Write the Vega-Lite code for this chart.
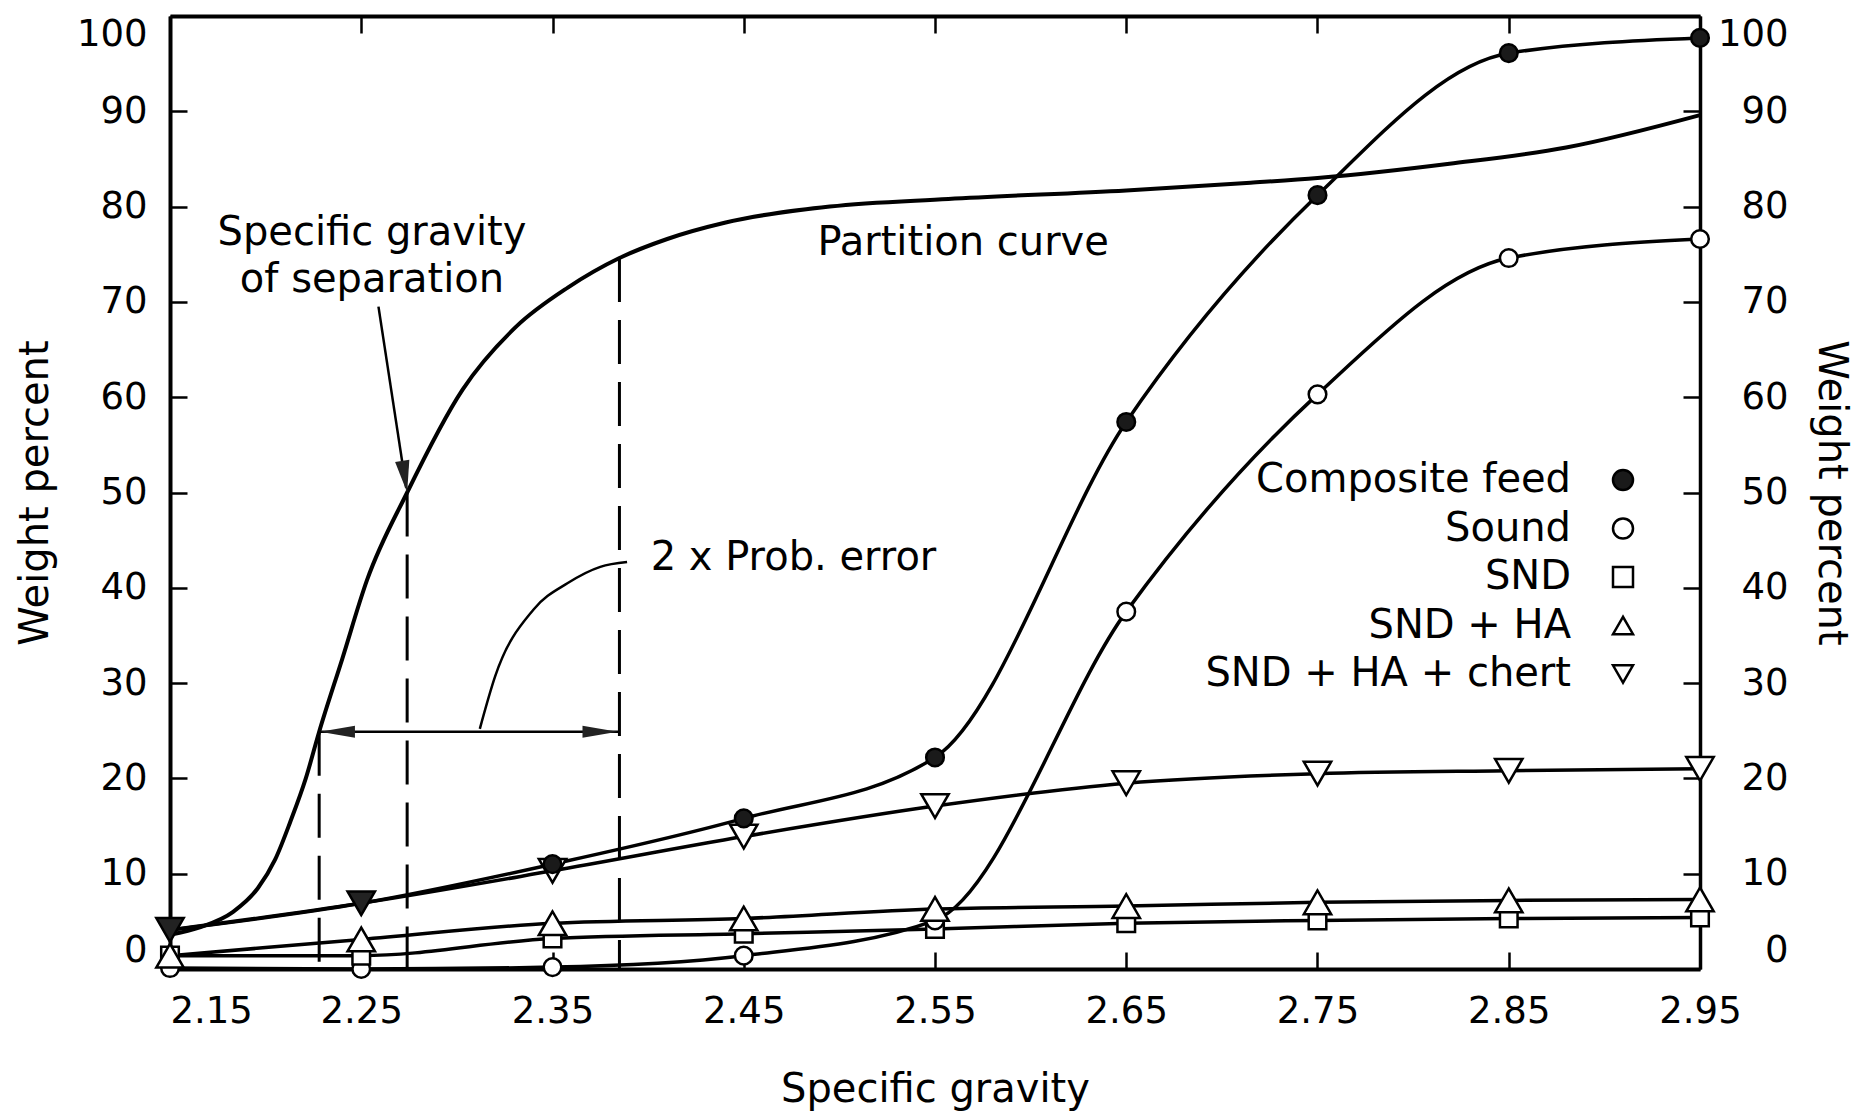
{
  "$schema": "https://vega.github.io/schema/vega-lite/v6.json",
  "width": 1530,
  "height": 953,
  "autosize": {"type": "none"},
  "padding": {"left": 170, "top": 16, "right": 160, "bottom": 150},
  "background": "white",
  "config": {
    "view": {"stroke": null},
    "font": "DejaVu Sans",
    "axis": {
      "domainColor": "black", "domainWidth": 4,
      "tickColor": "black", "tickWidth": 2.5, "tickSize": -17,
      "labelColor": "black", "labelFont": "DejaVu Sans", "labelFontSize": 37,
      "titleFont": "DejaVu Sans", "titleFontSize": 40, "titleFontWeight": "normal", "titleColor": "black",
      "grid": false
    },
    "legend": {
      "labelFont": "DejaVu Sans", "labelFontSize": 40, "labelColor": "black",
      "labelAlign": "right", "labelOffset": -72, "labelLimit": 1000,
      "rowPadding": 8.5, "symbolSize": 400, "symbolStrokeColor": "black", "symbolStrokeWidth": 2.5,
      "padding": 0
    }
  },
  "datasets": {
    "series": [
      {"sg": 2.15, "pct": 4.1, "series": "Composite feed"},
      {"sg": 2.25, "pct": 6.9, "series": "Composite feed"},
      {"sg": 2.35, "pct": 11.0, "series": "Composite feed"},
      {"sg": 2.45, "pct": 15.8, "series": "Composite feed"},
      {"sg": 2.55, "pct": 22.2, "series": "Composite feed"},
      {"sg": 2.65, "pct": 57.4, "series": "Composite feed"},
      {"sg": 2.75, "pct": 81.2, "series": "Composite feed"},
      {"sg": 2.85, "pct": 96.1, "series": "Composite feed"},
      {"sg": 2.95, "pct": 97.7, "series": "Composite feed"},
      {"sg": 2.15, "pct": 0.1, "series": "Sound"},
      {"sg": 2.25, "pct": 0.0, "series": "Sound"},
      {"sg": 2.35, "pct": 0.2, "series": "Sound"},
      {"sg": 2.45, "pct": 1.4, "series": "Sound"},
      {"sg": 2.55, "pct": 5.1, "series": "Sound"},
      {"sg": 2.65, "pct": 37.5, "series": "Sound"},
      {"sg": 2.75, "pct": 60.3, "series": "Sound"},
      {"sg": 2.85, "pct": 74.6, "series": "Sound"},
      {"sg": 2.95, "pct": 76.6, "series": "Sound"},
      {"sg": 2.15, "pct": 1.4, "series": "SND"},
      {"sg": 2.25, "pct": 1.4, "series": "SND"},
      {"sg": 2.35, "pct": 3.2, "series": "SND"},
      {"sg": 2.45, "pct": 3.7, "series": "SND"},
      {"sg": 2.55, "pct": 4.2, "series": "SND"},
      {"sg": 2.65, "pct": 4.8, "series": "SND"},
      {"sg": 2.75, "pct": 5.1, "series": "SND"},
      {"sg": 2.85, "pct": 5.3, "series": "SND"},
      {"sg": 2.95, "pct": 5.4, "series": "SND"},
      {"sg": 2.15, "pct": 1.4, "series": "SND + HA"},
      {"sg": 2.25, "pct": 3.1, "series": "SND + HA"},
      {"sg": 2.35, "pct": 4.8, "series": "SND + HA"},
      {"sg": 2.45, "pct": 5.3, "series": "SND + HA"},
      {"sg": 2.55, "pct": 6.3, "series": "SND + HA"},
      {"sg": 2.65, "pct": 6.6, "series": "SND + HA"},
      {"sg": 2.75, "pct": 7.0, "series": "SND + HA"},
      {"sg": 2.85, "pct": 7.2, "series": "SND + HA"},
      {"sg": 2.95, "pct": 7.3, "series": "SND + HA"},
      {"sg": 2.15, "pct": 4.1, "series": "SND + HA + chert"},
      {"sg": 2.25, "pct": 6.9, "series": "SND + HA + chert"},
      {"sg": 2.35, "pct": 10.3, "series": "SND + HA + chert"},
      {"sg": 2.45, "pct": 13.9, "series": "SND + HA + chert"},
      {"sg": 2.55, "pct": 17.1, "series": "SND + HA + chert"},
      {"sg": 2.65, "pct": 19.5, "series": "SND + HA + chert"},
      {"sg": 2.75, "pct": 20.5, "series": "SND + HA + chert"},
      {"sg": 2.85, "pct": 20.8, "series": "SND + HA + chert"},
      {"sg": 2.95, "pct": 21.0, "series": "SND + HA + chert"}
    ],
    "partition": [
      {"sg": 2.15, "pct": 3.6},
      {"sg": 2.166, "pct": 4.4},
      {"sg": 2.183, "pct": 6.0},
      {"sg": 2.196, "pct": 8.5},
      {"sg": 2.205, "pct": 11.5},
      {"sg": 2.213, "pct": 15.5},
      {"sg": 2.221, "pct": 20.0},
      {"sg": 2.228, "pct": 24.9},
      {"sg": 2.24, "pct": 32.5},
      {"sg": 2.253, "pct": 40.8},
      {"sg": 2.274, "pct": 50.0},
      {"sg": 2.303, "pct": 60.8},
      {"sg": 2.331, "pct": 67.4},
      {"sg": 2.358, "pct": 71.5},
      {"sg": 2.385, "pct": 74.6},
      {"sg": 2.41, "pct": 76.6},
      {"sg": 2.44, "pct": 78.3},
      {"sg": 2.495, "pct": 80.0},
      {"sg": 2.557, "pct": 80.8},
      {"sg": 2.65, "pct": 81.7},
      {"sg": 2.715, "pct": 82.5},
      {"sg": 2.75, "pct": 83.0},
      {"sg": 2.819, "pct": 84.5},
      {"sg": 2.88, "pct": 86.2},
      {"sg": 2.95, "pct": 89.6}
    ],
    "dashes": [
      {"sg": 2.228, "pct": 24.9},
      {"sg": 2.274, "pct": 50.0},
      {"sg": 2.385, "pct": 74.6}
    ],
    "span": [
      {"sg": 2.228, "sg_end": 2.385, "pct": 24.9}
    ],
    "arrowheads": [
      {"sg": 2.2284, "pct": 24.9, "dir": "left"},
      {"sg": 2.384, "pct": 24.9, "dir": "right"},
      {"sg": 2.274, "pct": 50.0, "dir": "down"}
    ],
    "leader1": [
      {"sg": 2.259, "pct": 69.5},
      {"sg": 2.2735, "pct": 50.5}
    ],
    "leader2": [
      {"sg": 2.312, "pct": 25.2},
      {"sg": 2.320, "pct": 30.7},
      {"sg": 2.340, "pct": 37.7},
      {"sg": 2.358, "pct": 40.5},
      {"sg": 2.375, "pct": 42.2},
      {"sg": 2.389, "pct": 42.7}
    ],
    "notes": [
      {"sg": 2.2556, "pct": 77.2, "label": "Specific gravity"},
      {"sg": 2.2556, "pct": 72.3, "label": "of separation"},
      {"sg": 2.5647, "pct": 76.2, "label": "Partition curve"},
      {"sg": 2.476, "pct": 43.1, "label": "2 x Prob. error"}
    ]
  },
  "layer": [
    {
      "data": {"name": "partition"},
      "mark": {"type": "line", "interpolate": "monotone", "stroke": "black", "strokeWidth": 4},
      "encoding": {
        "x": {"field": "sg", "type": "quantitative",
              "scale": {"domain": [2.15, 2.95], "nice": false, "zero": false},
              "axis": {"orient": "top", "values": [2.15, 2.25, 2.35, 2.45, 2.55, 2.65, 2.75, 2.85, 2.95], "labels": false, "title": null}},
        "y": {"field": "pct", "type": "quantitative",
              "scale": {"domain": [0, 100], "nice": false},
              "axis": {"orient": "right", "values": [0, 10, 20, 30, 40, 50, 60, 70, 80, 90, 100],
                       "labelAlign": "right", "labelPadding": 105, "labelFlush": true,
                       "title": "Weight percent", "titlePadding": 22, "domainWidth": 3.5}}
      }
    },
    {
      "data": {"name": "dashes"},
      "mark": {"type": "rule", "stroke": "black", "strokeWidth": 3, "strokeDash": [44, 18]},
      "encoding": {
        "x": {"field": "sg", "type": "quantitative", "axis": null},
        "y": {"field": "pct", "type": "quantitative", "axis": null},
        "y2": {"datum": 0}
      }
    },
    {
      "data": {"name": "span"},
      "mark": {"type": "rule", "stroke": "black", "strokeWidth": 2.5},
      "encoding": {
        "x": {"field": "sg", "type": "quantitative", "axis": null},
        "x2": {"field": "sg_end"},
        "y": {"field": "pct", "type": "quantitative", "axis": null}
      }
    },
    {
      "data": {"name": "leader1"},
      "mark": {"type": "line", "stroke": "black", "strokeWidth": 2.5},
      "encoding": {
        "x": {"field": "sg", "type": "quantitative", "axis": null},
        "y": {"field": "pct", "type": "quantitative", "axis": null}
      }
    },
    {
      "data": {"name": "leader2"},
      "mark": {"type": "line", "interpolate": "monotone", "stroke": "black", "strokeWidth": 2.5},
      "encoding": {
        "x": {"field": "sg", "type": "quantitative", "axis": null},
        "y": {"field": "pct", "type": "quantitative", "axis": null}
      }
    },
    {
      "data": {"name": "arrowheads"},
      "transform": [{"filter": "datum.dir == 'left'"}],
      "mark": {"type": "point", "shape": "M0,0L2,-0.34L2,0.34Z", "size": 1225, "filled": true, "fill": "#222", "strokeWidth": 0, "opacity": 1},
      "encoding": {
        "x": {"field": "sg", "type": "quantitative", "axis": null},
        "y": {"field": "pct", "type": "quantitative", "axis": null}
      }
    },
    {
      "data": {"name": "arrowheads"},
      "transform": [{"filter": "datum.dir == 'right'"}],
      "mark": {"type": "point", "shape": "M0,0L-2,-0.34L-2,0.34Z", "size": 1225, "filled": true, "fill": "#222", "strokeWidth": 0, "opacity": 1},
      "encoding": {
        "x": {"field": "sg", "type": "quantitative", "axis": null},
        "y": {"field": "pct", "type": "quantitative", "axis": null}
      }
    },
    {
      "data": {"name": "arrowheads"},
      "transform": [{"filter": "datum.dir == 'down'"}],
      "mark": {"type": "point", "shape": "M0,0L0.137,-2.045L-0.753,-1.907Z", "size": 1024, "filled": true, "fill": "#222", "strokeWidth": 0, "opacity": 1},
      "encoding": {
        "x": {"field": "sg", "type": "quantitative", "axis": null},
        "y": {"field": "pct", "type": "quantitative", "axis": null}
      }
    },
    {
      "data": {"name": "series"},
      "mark": {"type": "line", "interpolate": "monotone", "stroke": "black", "strokeWidth": 3.5},
      "encoding": {
        "x": {"field": "sg", "type": "quantitative",
              "axis": {"orient": "bottom", "values": [2.15, 2.25, 2.35, 2.45, 2.55, 2.65, 2.75, 2.85, 2.95], "format": ".2f",
                       "labelPadding": 41, "title": "Specific gravity", "titlePadding": 40,
                       "labelAlign": {"condition": {"test": "datum.value < 2.16", "value": "left"}, "value": "center"}}},
        "y": {"field": "pct", "type": "quantitative",
              "axis": {"orient": "left", "values": [0, 10, 20, 30, 40, 50, 60, 70, 80, 90, 100],
                       "labelPadding": 40, "labelFlush": true, "title": "Weight percent", "titlePadding": 21}},
        "detail": {"field": "series", "type": "nominal"}
      }
    },
    {
      "data": {"name": "series"},
      "transform": [{"filter": "!(datum.series == 'Composite feed' && datum.sg < 2.3)"}],
      "mark": {"type": "point", "filled": true, "strokeWidth": 2.5, "opacity": 1},
      "encoding": {
        "x": {"field": "sg", "type": "quantitative", "axis": null},
        "y": {"field": "pct", "type": "quantitative", "axis": null},
        "shape": {"field": "series", "type": "nominal",
                  "scale": {"domain": ["Composite feed", "Sound", "SND", "SND + HA", "SND + HA + chert"],
                            "range": ["circle", "circle", "square", "triangle-up", "triangle-down"]},
                  "legend": {"title": null, "orient": "none", "legendX": 1433, "legendY": 444}},
        "fill": {"condition": {"test": "datum.series == 'SND + HA + chert' && datum.sg < 2.3", "value": "#222"},
                 "field": "series", "type": "nominal",
                 "scale": {"domain": ["Composite feed", "Sound", "SND", "SND + HA", "SND + HA + chert"],
                           "range": ["#1a1a1a", "white", "white", "white", "white"]},
                 "legend": {"title": null, "orient": "none", "legendX": 1433, "legendY": 444}},
        "stroke": {"field": "series", "type": "nominal",
                   "scale": {"domain": ["Composite feed", "Sound", "SND", "SND + HA", "SND + HA + chert"],
                             "range": ["black", "black", "black", "black", "black"]},
                   "legend": {"title": null, "orient": "none", "legendX": 1433, "legendY": 444}},
        "size": {"condition": {"test": "indexof(datum.series, 'HA') >= 0", "value": 750}, "value": 310},
        "order": {"field": "pct", "type": "quantitative"}
      }
    },
    {
      "data": {"name": "notes"},
      "mark": {"type": "text", "font": "DejaVu Sans", "fontSize": 40, "color": "black", "align": "center", "baseline": "middle"},
      "encoding": {
        "x": {"field": "sg", "type": "quantitative", "axis": null},
        "y": {"field": "pct", "type": "quantitative", "axis": null},
        "text": {"field": "label", "type": "nominal"}
      }
    }
  ],
  "resolve": {"axis": {"x": "independent", "y": "independent"}}
}
